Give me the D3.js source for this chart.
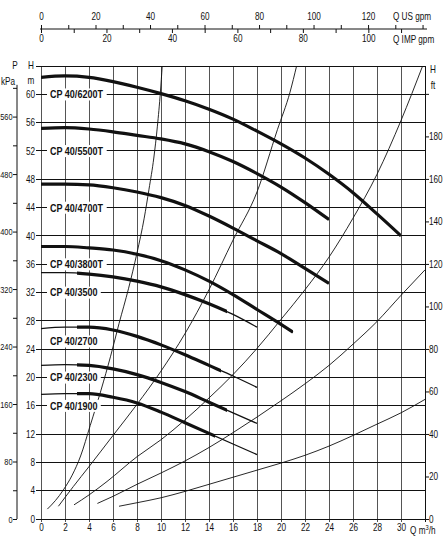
<!DOCTYPE html>
<html><head><meta charset="utf-8">
<script src="https://cdn.jsdelivr.net/npm/d3@7"></script>
<style>
body{margin:0;background:#fff}
svg{display:block}
text{font-family:"Liberation Sans",Arial,sans-serif;fill:#111}
</style></head><body>
<svg id="c" width="448" height="538"></svg>
<script>
// ---------- data ----------
const pumpNames = ["CP 40/6200T","CP 40/5500T","CP 40/4700T","CP 40/3800T","CP 40/3500","CP 40/2700","CP 40/2300","CP 40/1900"];
const q6200T = [0,2,4,6,8,10,12,14,16,18,20,22,24,26,28,30];
const h6200T = [62.4,62.6,62.4,61.8,61.0,60.1,59.1,57.9,56.5,54.8,53.0,51.0,48.7,46.1,43.1,40.0];
const q5500T = [0,2,4,6,8,10,12,14,16,18,20,22,24];
const h5500T = [55.2,55.3,55.1,54.7,54.2,53.7,53.0,51.9,50.5,48.8,46.9,44.7,42.3];
const q4700T = [0,2,4,6,8,10,12,14,16,18,20,22,24];
const h4700T = [47.3,47.3,47.2,46.8,46.2,45.4,44.3,42.8,41.1,39.3,37.5,35.4,33.3];
const q3800T = [0,2,4,6,8,10,12,14,16,18,20,21];
const h3800T = [38.5,38.5,38.3,38.0,37.4,36.5,35.2,33.6,31.7,29.6,27.5,26.4];
const q3500 = [0,2,4,6,8,10,12,14,16,18];
const h3500 = [34.8,34.8,34.6,34.2,33.6,32.8,31.7,30.4,28.9,27.1];
const q2700 = [0,2,4,6,8,10,12,14,16,18];
const h2700 = [26.9,27.1,27.1,26.7,25.8,24.6,23.2,21.7,20.2,18.6];
const q2300 = [0,2,4,6,8,10,12,14,16,18];
const h2300 = [21.7,21.8,21.7,21.2,20.4,19.3,18.0,16.5,15.0,13.5];
const q1900 = [0,2,4,6,8,10,12,14,16,18];
const h1900 = [17.6,17.7,17.7,17.2,16.4,15.1,13.6,12.1,10.6,9.1];
// recommended (bold) operating range of each curve, m3/h
const boldFrom = [0,0,0,0,3,3,3,3];
const boldTo   = [30,24,24,21,15.5,15,15.5,14.5];
// where each model label sits (H, m)
const labelH = [60,52,44,36,32,25.1,20,16];

// thin system curves
const qSysA = [0.53,1.2,1.86,2.6,3.3,4.1,5.0,5.8,6.5,7.3,8.0,8.6,9.0,9.4,9.7,9.95,10.1];
const hSysA = [1.4,2.6,4.1,6.2,8.9,13.2,18.2,23.0,27.6,32.6,37.6,42.5,46.6,51.0,55.5,60.3,64];
const qSysB = [1.45,2.7,4,6,8,10,12,14,16,18,19.7,20.75,21.3];
const hSysB = [1.8,4.6,7.4,11.8,16.2,20.9,26.2,32.4,39.4,46.2,55.0,60.3,64];
const qSysC = [2.75,4,5.5,8,10,12,14,16,18,20,22,24,26,28,30,31.8];
const hSysC = [2.0,3.4,5.3,8.8,11.2,14.0,17.1,20.4,24.1,28.2,32.4,37.0,42.5,48.7,56.3,64];
const qSysD = [4.7,6,8,10,12,14,16,18,20,22,24,26,28,30,32];
const hSysD = [2.2,3.2,4.9,6.5,8.2,10.1,12.2,14.4,16.7,19.1,21.7,24.7,27.9,31.6,35.2];
const qSysE = [6.5,8,10,12,14,16,18,20,22,24,26,28,30,32];
const hSysE = [1.8,2.3,3.0,3.9,4.9,5.9,6.9,7.9,9.0,10.3,11.8,13.4,15.0,16.9];

// tick labels
const qTicks = [0,2,4,6,8,10,12,14,16,18,20,22,24,26,28,30];
const hTicks = [0,4,8,12,16,20,24,28,32,36,40,44,48,52,56,60];
const kpaTicks = [0,80,160,240,320,400,480,560];
const ftTicks = [0,20,40,60,80,100,120,140,160,180];
const usTicks = [0,20,40,60,80,100,120];
const impTicks = [0,20,40,60,80,100];

// unit conversions (as drawn on the sheet)
const KPA_PER_M = 9.85, FT_PER_M = 3.33, USGPM_PER_M3H = 4.403, IMPGPM_PER_M3H = 3.666;
const NARROW = 0.82; // condensed type look

// ---------- drawing ----------
const svg = d3.select("#c");
const x = d3.scaleLinear().domain([0,32]).range([41,425]);
const y = d3.scaleLinear().domain([0,64]).range([519,66]);
const yKpa = d3.scaleLinear().domain([0,64*KPA_PER_M]).range([519,66]);
const yFt = d3.scaleLinear().domain([0,64*FT_PER_M]).range([519,66]);
const xUS = d3.scaleLinear().domain([0,32*USGPM_PER_M3H]).range([41,425]);
const xIMP = d3.scaleLinear().domain([0,32*IMPGPM_PER_M3H]).range([41,425]);

// grid
const grid = svg.append("g").attr("shape-rendering","crispEdges");
grid.selectAll("line.v").data(d3.range(0,33,2)).join("line")
  .attr("x1",d=>x(d)).attr("x2",d=>x(d)).attr("y1",y(64)).attr("y2",y(0)+3)
  .attr("stroke",d=>d===32?"#111":"#555").attr("stroke-width",1);
grid.selectAll("line.h").data(d3.range(0,65,4)).join("line")
  .attr("x1",x(0)-5).attr("x2",x(32)).attr("y1",d=>y(d)).attr("y2",d=>y(d))
  .attr("stroke","#111").attr("stroke-width",1);

function styleAxis(g){ g.select(".domain").remove(); g.selectAll("text").attr("font-size",10).attr("fill","#111");
  g.selectAll("line").attr("stroke","#111"); g.attr("font-family",null); }

// left H (m) labels
svg.append("g").attr("transform",`translate(${x(0)},0)`)
  .call(d3.axisLeft(y).tickValues(hTicks).tickSize(0).tickPadding(6)).call(styleAxis);
// bottom Q labels
svg.append("g").attr("transform",`translate(0,${y(0)})`)
  .call(d3.axisBottom(x).tickValues(qTicks).tickSize(0).tickPadding(5)).call(styleAxis);
// kPa axis
const kpaG = svg.append("g").attr("transform","translate(17,0)")
  .call(d3.axisLeft(yKpa).tickValues(d3.range(0,601,40)).tickSize(4).tickPadding(0.5)
     .tickFormat(d=>kpaTicks.includes(d)?d:"")).call(styleAxis);
kpaG.selectAll("text").attr("font-size",9.5).attr("class","kpa");
kpaG.append("line").attr("x1",0).attr("x2",0).attr("y1",yKpa(0)).attr("y2",yKpa(600)-3).attr("stroke","#111");
// ft axis
svg.append("g").attr("transform",`translate(${x(32)},0)`)
  .call(d3.axisRight(yFt).tickValues(d3.range(0,201,20)).tickSize(4).tickPadding(0)
     .tickFormat(d=>ftTicks.includes(d)?d:"")).call(styleAxis);
// top gpm axes
const topY = 29;
svg.append("line").attr("x1",40).attr("x2",427).attr("y1",topY).attr("y2",topY).attr("stroke","#111");
svg.append("g").attr("transform",`translate(0,${topY})`)
  .call(d3.axisTop(xUS).tickValues(d3.range(0,141,10)).tickSize(4).tickPadding(5)
     .tickFormat(d=>usTicks.includes(d)?d:"")).call(styleAxis);
svg.append("g").attr("transform",`translate(0,${topY})`)
  .call(d3.axisBottom(xIMP).tickValues(d3.range(0,111,10)).tickSize(4).tickPadding(2)
     .tickFormat(d=>impTicks.includes(d)?d:"")).call(styleAxis);

// unit captions
const cap = (t,xx,yy,anchor)=>svg.append("text").attr("x",xx).attr("y",yy).attr("font-size",10)
  .attr("text-anchor",anchor||"start").text(t);
cap("Q US gpm",393,20);
cap("Q IMP gpm",393,43);
cap("P",15,69,"middle"); cap("kPa",8,85,"middle");
cap("H",31,69,"middle"); cap("m",31,84,"middle");
cap("H",433,73,"middle"); cap("ft",433,89,"middle");
const qcap = svg.append("text").attr("x",410).attr("y",534).attr("font-size",10);
qcap.append("tspan").text("Q m");
qcap.append("tspan").attr("font-size",7).attr("dy",-4).text("3");
qcap.append("tspan").attr("dy",4).text("/h");

// clip to plot
const defs = svg.append("defs");
defs.append("clipPath").attr("id","plot").append("rect")
  .attr("x",x(0)).attr("y",y(64)).attr("width",x(32)-x(0)).attr("height",y(0)-y(64));

const line = d3.line().x(d=>x(d[0])).y(d=>y(d[1])).curve(d3.curveMonotoneX);
const zip = (a,b)=>a.map((v,i)=>[v,b[i]]);

// system curves
const sysQ = [qSysA,qSysB,qSysC,qSysD,qSysE], sysH = [hSysA,hSysB,hSysC,hSysD,hSysE];
svg.append("g").attr("clip-path","url(#plot)").selectAll("path").data(sysQ.map((q,i)=>zip(q,sysH[i])))
  .join("path").attr("d",line).attr("fill","none").attr("stroke","#111").attr("stroke-width",0.9);

// pump curves
const pumpQ = [q6200T,q5500T,q4700T,q3800T,q3500,q2700,q2300,q1900];
const pumpH = [h6200T,h5500T,h4700T,h3800T,h3500,h2700,h2300,h1900];
const pumps = pumpQ.map((q,i)=>zip(q,pumpH[i]));
pumps.forEach((pts,i)=>{
  defs.append("clipPath").attr("id","bold"+i).append("rect")
    .attr("x",x(boldFrom[i])).attr("y",0).attr("width",x(boldTo[i])-x(boldFrom[i])).attr("height",538);
  const g = svg.append("g");
  g.append("path").attr("d",line(pts)).attr("fill","none").attr("stroke","#111").attr("stroke-width",1.3);
  g.append("path").attr("d",line(pts)).attr("fill","none").attr("stroke","#111").attr("stroke-width",3.2)
    .attr("clip-path",`url(#bold${i})`);
});

// condensed look for every text: scale horizontally around its anchor x
svg.selectAll("text").each(function(){
  const t = d3.select(this); const xx = +t.attr("x") || 0;
  const s = t.classed("kpa") ? 0.78 : NARROW;
  t.attr("transform",`translate(${xx},0) scale(${s},1) translate(${-xx},0)`);
});

// model labels with white boxes
pumpNames.forEach((n,i)=>{
  const g = svg.append("g");
  const lx = 50;
  const t = g.append("text").attr("x",lx).attr("y",y(labelH[i])).attr("dy","0.36em")
    .attr("font-size",11).attr("font-weight","bold").text(n)
    .attr("transform",`translate(${lx},0) scale(${NARROW},1) translate(${-lx},0)`);
  const b = t.node().getBBox();
  g.insert("rect","text").attr("x",lx-3).attr("y",b.y).attr("width",b.width*NARROW+6).attr("height",b.height).attr("fill","#fff");
});
</script></body></html>
